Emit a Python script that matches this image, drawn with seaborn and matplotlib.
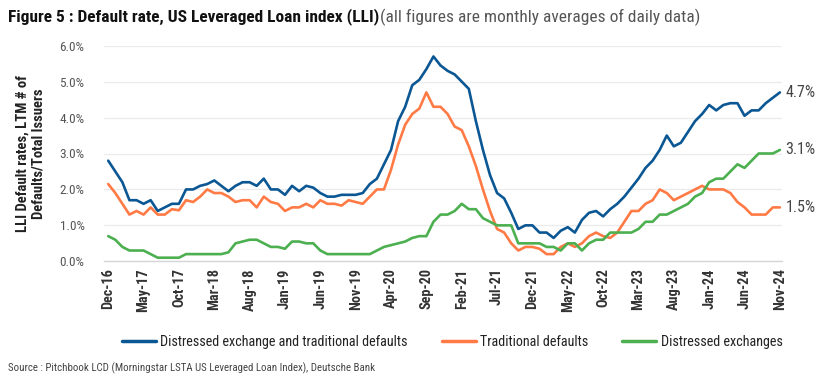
import matplotlib
matplotlib.use("Agg")
import matplotlib.pyplot as plt
from matplotlib import font_manager
from matplotlib.lines import Line2D
import seaborn as sns
import pandas as pd
import numpy as np

# ---------------- data ----------------
months = pd.date_range("2016-12-01", "2024-11-01", freq="MS").strftime("%b-%y").tolist()

tick_labels = ["Dec-16", "May-17", "Oct-17", "Mar-18", "Aug-18", "Jan-19", "Jun-19",
               "Nov-19", "Apr-20", "Sep-20", "Feb-21", "Jul-21", "Dec-21", "May-22",
               "Oct-22", "Mar-23", "Aug-23", "Jan-24", "Jun-24", "Nov-24"]

distressed_and_traditional = [
    2.8, 2.5, 2.2, 1.7, 1.7, 1.6, 1.7, 1.4, 1.5, 1.6, 1.6, 2.0, 2.0, 2.1, 2.15, 2.25,
    2.1, 1.95, 2.1, 2.2, 2.2, 2.1, 2.3, 2.0, 2.0, 1.85, 2.1, 1.95, 2.1, 2.05, 1.9, 1.8,
    1.8, 1.85, 1.85, 1.85, 1.9, 2.15, 2.3, 2.7, 3.1, 3.9, 4.3, 4.9, 5.05, 5.35, 5.7, 5.45,
    5.3, 5.2, 5.0, 4.8, 3.9, 3.1, 2.4, 1.9, 1.75, 1.35, 0.9, 1.0, 1.0, 0.8, 0.8, 0.65,
    0.85, 0.95, 0.8, 1.15, 1.35, 1.4, 1.25, 1.45, 1.6, 1.8, 2.05, 2.3, 2.6, 2.8, 3.1, 3.5,
    3.2, 3.3, 3.6, 3.9, 4.1, 4.35, 4.2, 4.35, 4.4, 4.4, 4.05, 4.2, 4.2, 4.4, 4.55, 4.7]

traditional = [
    2.15, 1.9, 1.6, 1.3, 1.4, 1.3, 1.5, 1.3, 1.3, 1.45, 1.42, 1.7, 1.65, 1.8, 2.0, 1.9,
    1.9, 1.8, 1.65, 1.7, 1.7, 1.5, 1.8, 1.65, 1.6, 1.4, 1.5, 1.5, 1.6, 1.5, 1.7, 1.6,
    1.6, 1.55, 1.7, 1.65, 1.6, 1.8, 2.0, 2.0, 2.55, 3.25, 3.8, 4.1, 4.25, 4.7, 4.3, 4.3,
    4.1, 3.75, 3.65, 3.2, 2.65, 2.0, 1.4, 0.9, 0.8, 0.5, 0.3, 0.4, 0.4, 0.35, 0.2, 0.2,
    0.4, 0.5, 0.4, 0.5, 0.7, 0.8, 0.7, 0.65, 0.8, 1.1, 1.4, 1.4, 1.6, 1.7, 2.0, 1.9,
    1.7, 1.8, 1.9, 2.0, 2.1, 2.0, 2.0, 2.0, 1.9, 1.65, 1.5, 1.3, 1.3, 1.3, 1.5, 1.5]

distressed_exchanges = [
    0.7, 0.6, 0.4, 0.3, 0.3, 0.3, 0.2, 0.1, 0.1, 0.1, 0.1, 0.2, 0.2, 0.2, 0.2, 0.2,
    0.2, 0.25, 0.5, 0.55, 0.6, 0.6, 0.5, 0.4, 0.4, 0.35, 0.55, 0.55, 0.5, 0.5, 0.3, 0.2,
    0.2, 0.2, 0.2, 0.2, 0.2, 0.2, 0.3, 0.4, 0.45, 0.5, 0.55, 0.65, 0.7, 0.7, 1.1, 1.3,
    1.3, 1.4, 1.6, 1.45, 1.45, 1.2, 1.1, 1.0, 1.0, 1.0, 0.5, 0.5, 0.5, 0.5, 0.4, 0.4,
    0.3, 0.5, 0.5, 0.3, 0.5, 0.6, 0.6, 0.8, 0.8, 0.8, 0.8, 0.9, 1.1, 1.1, 1.3, 1.3,
    1.4, 1.5, 1.6, 1.8, 1.9, 2.2, 2.3, 2.3, 2.5, 2.7, 2.6, 2.8, 3.0, 3.0, 3.0, 3.1]

series_names = ["Distressed exchange and traditional defaults",
                "Traditional defaults",
                "Distressed exchanges"]
colors = ["#0b5794", "#ff7a45", "#4caf50"]

# ---------------- style ----------------
sns.set_theme(style="white")
names = {f.name for f in font_manager.fontManager.ttflist}
main_font = "DejaVu Sans"
for cand in ["Roboto Condensed", "Liberation Sans Narrow", "Roboto"]:
    if cand in names:
        main_font = cand
        break
plt.rcParams["font.family"] = [main_font, "DejaVu Sans"]

fig = plt.figure(figsize=(8.3, 3.88), dpi=100)
ax = fig.add_axes([104 / 830, 1 - 261.3 / 388, (782 - 104) / 830, (261.3 - 45.7) / 388])

df = pd.DataFrame({
    "idx": np.arange(len(months)),
    "month": months,
    series_names[0]: distressed_and_traditional,
    series_names[1]: traditional,
    series_names[2]: distressed_exchanges,
})
long = df.melt(id_vars=["idx", "month"], value_vars=series_names,
               var_name="series", value_name="rate")

sns.lineplot(data=long, x="idx", y="rate", hue="series", hue_order=series_names,
             palette=colors, linewidth=1.9, ax=ax, legend=False)

ax.set_xlim(-0.6, len(months) - 1 + 0.3)
ax.set_ylim(0, 6.0)
yt = np.arange(0, 6.01, 1.0)
ax.set_yticks(yt)
ax.set_yticklabels([f"{v:.1f}%" for v in yt], color="#555555", fontsize=9.5)
tick_pos = [months.index(t) for t in tick_labels]
ax.set_xticks(tick_pos)
ax.set_xticklabels(tick_labels, rotation=90, fontsize=10.3, fontweight="bold", color="#333333")
ax.tick_params(axis="x", length=0, pad=5)
ax.tick_params(axis="y", length=0, pad=14)

ax.grid(axis="y", color="#ebebeb", linewidth=0.9)
ax.set_axisbelow(True)
for s in ["top", "right", "left"]:
    ax.spines[s].set_visible(False)
ax.spines["bottom"].set_color("#d6d6d6")
ax.spines["bottom"].set_linewidth(1.0)
ax.set_xlabel("")
ax.set_ylabel("LLI Default rates, LTM # of\nDefaults/Total Issuers", fontsize=10.5,
              fontweight="bold", color="#222222", labelpad=10, linespacing=1.15)

# end labels
last = len(months) - 1
for vals in [distressed_and_traditional, distressed_exchanges, traditional]:
    ax.annotate(f"{vals[-1]:.1f}%", xy=(last, vals[-1]), xytext=(4, 0),
                textcoords="offset points", va="center", ha="left",
                fontsize=11.5, color="#444444", annotation_clip=False)

# legend
handles = [Line2D([0], [0], color=c, lw=2.5) for c in colors]
fig.legend(handles, series_names, loc="center", bbox_to_anchor=(0.545, 0.119),
           ncol=3, frameon=False, fontsize=10.2, handlelength=2.4,
           columnspacing=2.4, handletextpad=0.3, labelcolor="#222222")

# title
fig.canvas.draw()
t1 = fig.text(8 / 830, 1 - 17 / 388, "Figure 5 : Default rate, US Leveraged Loan index (LLI)",
              fontsize=12.5, fontweight="bold", color="#111111", va="center", ha="left")
fig.canvas.draw()
bb = t1.get_window_extent(renderer=fig.canvas.get_renderer())
x_end = bb.x1 / fig.bbox.width
fig.text(x_end + 1 / 830, 1 - 17 / 388, "(all figures are monthly averages of daily data)",
         fontsize=12.5, color="#555555", va="center", ha="left")

fig.text(8 / 830, 1 - 368 / 388,
         "Source : Pitchbook LCD (Morningstar LSTA US Leveraged Loan Index), Deutsche Bank",
         fontsize=7.8, color="#444444", va="center", ha="left")

fig.savefig("out.png", dpi=100)
